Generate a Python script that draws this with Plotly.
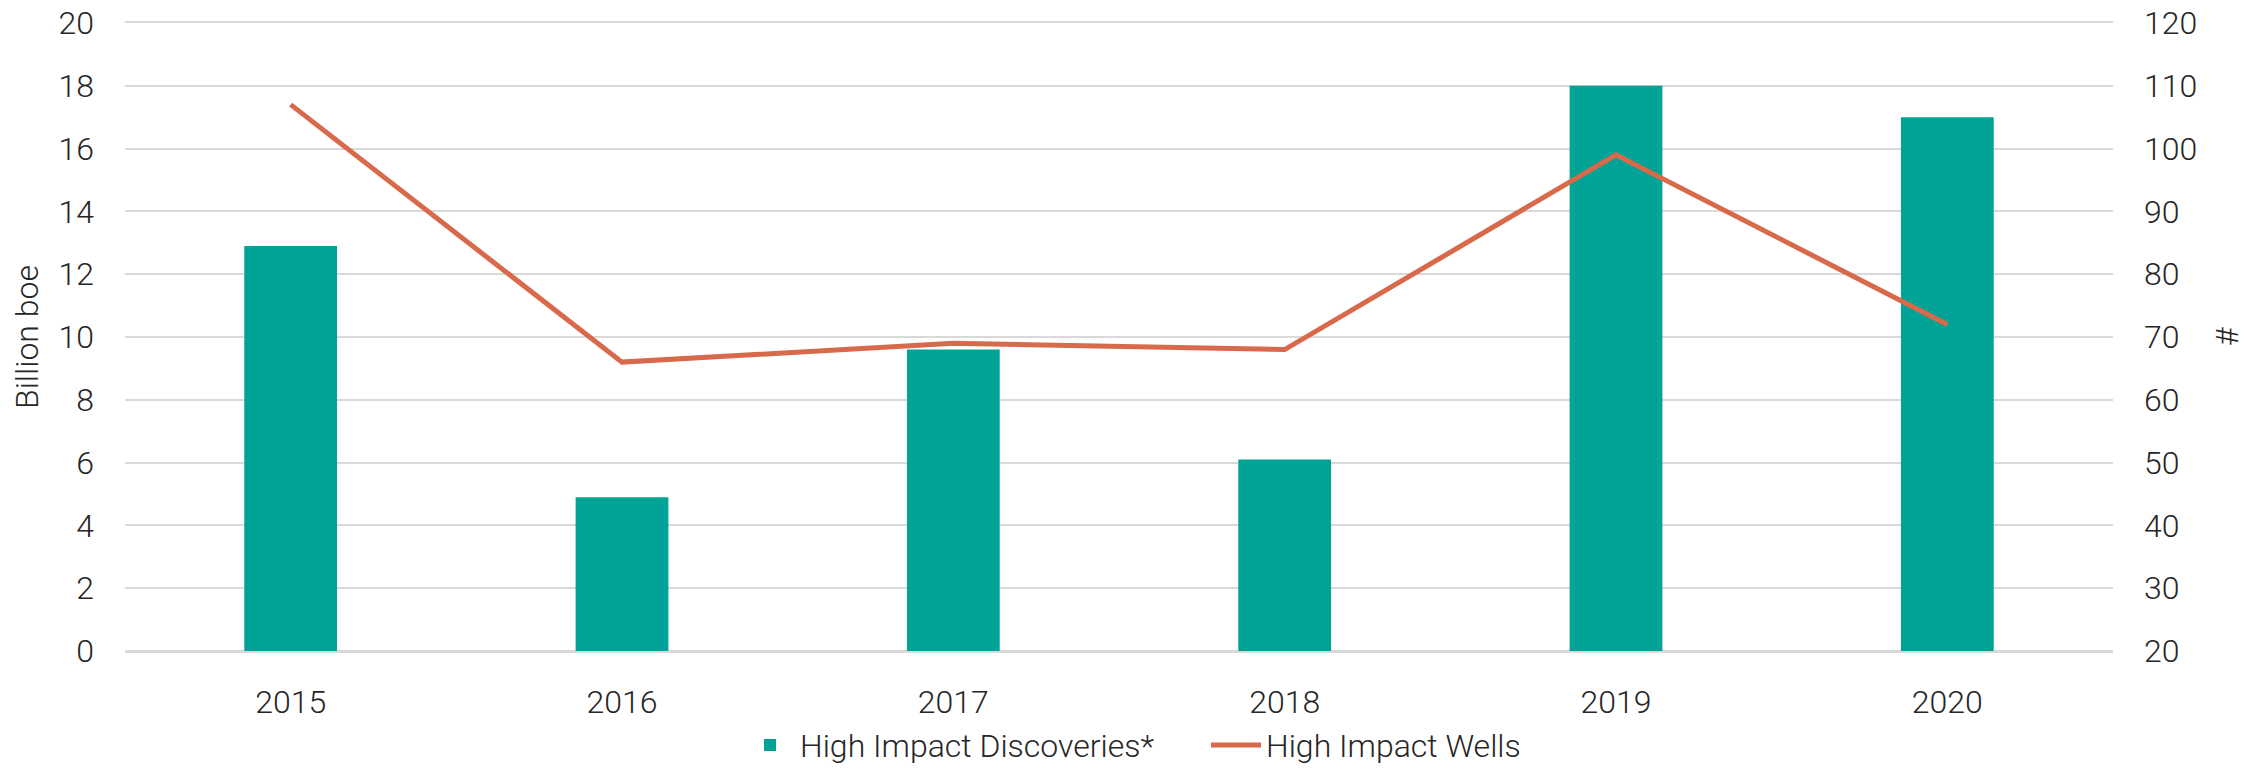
import plotly.graph_objects as go

# Data
years = ["2015", "2016", "2017", "2018", "2019", "2020"]
discoveries = [12.9, 4.9, 9.6, 6.1, 18.0, 17.0]   # Billion boe (left axis)
wells = [107, 66, 69, 68, 99, 72]                 # count (right axis)

left_ticks = list(range(0, 21, 2))
right_ticks = list(range(20, 121, 10))

teal = "#00A396"
orange = "#D8694B"
grid = "#D9D9D9"
text_col = "#262626"
fnt = dict(family="Roboto", size=32, color=text_col, weight=300)

fig = go.Figure()

fig.add_trace(go.Bar(
    x=years, y=discoveries,
    name="High Impact Discoveries*",
    marker=dict(color=teal, line=dict(width=0)),
    width=0.28,
    yaxis="y",
))

fig.add_trace(go.Scatter(
    x=years, y=wells,
    name="High Impact Wells",
    mode="lines",
    line=dict(color=orange, width=5),
    yaxis="y2",
))

# the page body has an 8px margin, so the figure is a bit smaller than the window
fig.update_layout(
    width=2246, height=755,
    margin=dict(l=117, r=141, t=15, b=112, autoexpand=False),
    paper_bgcolor="white",
    plot_bgcolor="white",
    font=fnt,
    showlegend=True,
    legend=dict(
        orientation="h",
        x=0.5334, xref="container", xanchor="center",
        y=-0.15, yanchor="middle",
        font=fnt,
        traceorder="normal",
        itemwidth=50,
        entrywidth=401,
    ),
    xaxis=dict(
        showgrid=False,
        # top/bottom frame lines double as the 20 and 0 gridlines
        showline=True, linecolor=grid, linewidth=2, mirror=True,
        ticks="",
        automargin=False,
        ticklabelstandoff=22,
        tickfont=fnt,
    ),
    yaxis=dict(
        title=dict(text="Billion boe", standoff=14, font=fnt),
        range=[0, 20],
        tickvals=left_ticks,
        showgrid=True, gridcolor=grid, gridwidth=2,
        zeroline=True, zerolinecolor=grid, zerolinewidth=2,
        showline=False,
        ticks="",
        automargin=False,
        ticklabeloverflow="allow",
        ticklabelstandoff=30,
        tickfont=fnt,
    ),
    yaxis2=dict(
        range=[20, 120],
        tickvals=right_ticks,
        overlaying="y",
        side="right",
        showgrid=False,
        zeroline=False,
        showline=False,
        ticks="",
        automargin=False,
        ticklabeloverflow="allow",
        ticklabelstandoff=30,
        tickfont=fnt,
    ),
)

# right axis title "#"
fig.add_annotation(
    text="#", textangle=-90,
    xref="paper", yref="paper", x=1.0574, y=0.5,
    xanchor="center", yanchor="middle",
    showarrow=False, font=fnt,
)

fig.write_html("out.html")
